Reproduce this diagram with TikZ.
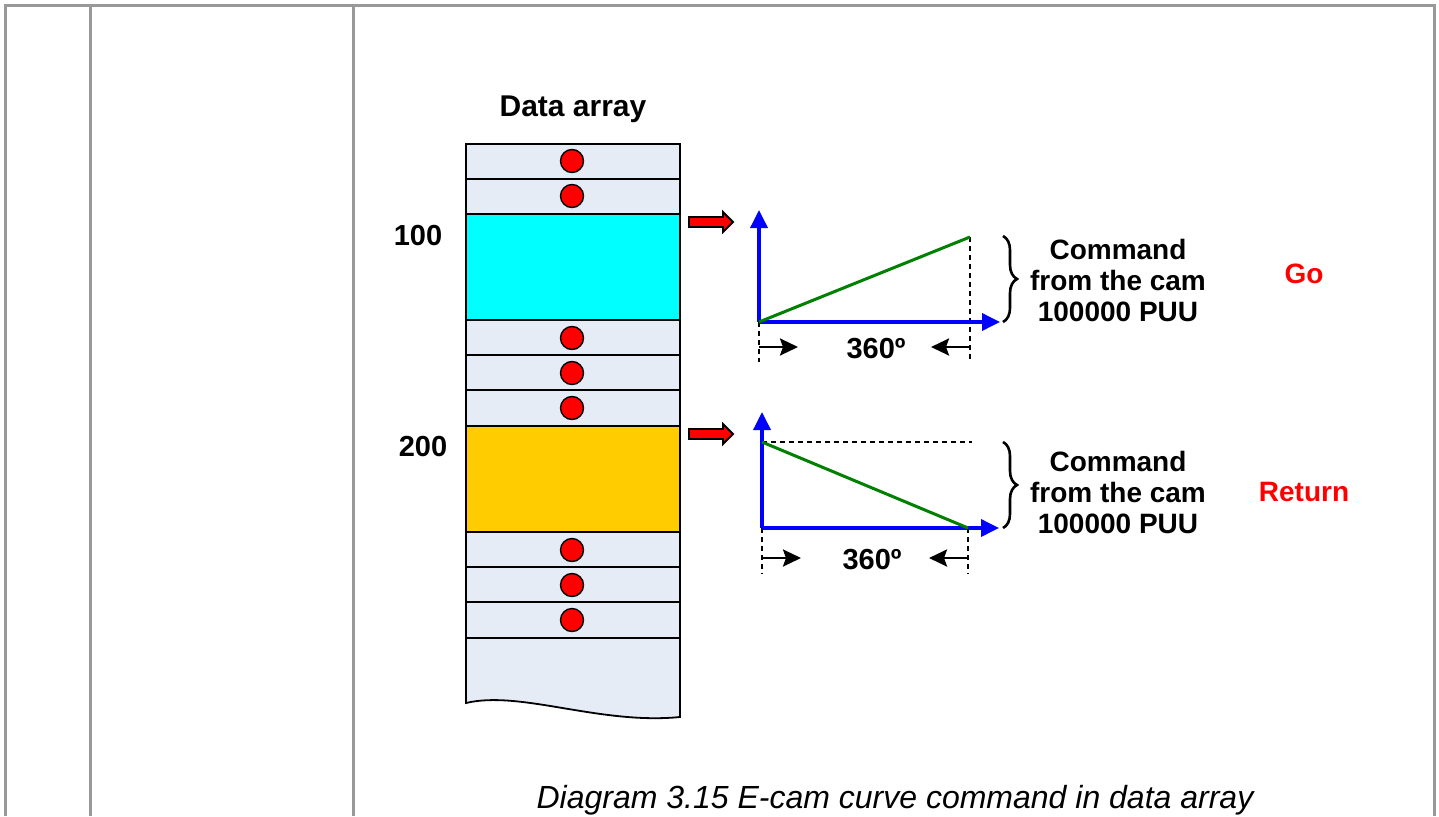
\documentclass[tikz,border=0pt]{standalone}
\usepackage{fontspec}
\setmainfont{Liberation Sans}
\usetikzlibrary{arrows.meta,decorations.pathreplacing}
\definecolor{gridgray}{HTML}{999999}
\definecolor{cellbg}{HTML}{E6ECF6}
\definecolor{cyanfill}{HTML}{00FFFF}
\definecolor{orangefill}{HTML}{FFCC00}
\definecolor{axisblue}{HTML}{0000FF}
\definecolor{curvegreen}{HTML}{008000}
\definecolor{labelred}{HTML}{FF0000}
\begin{document}
\begin{tikzpicture}[x=1pt,y=-1pt,
  gridline/.style={draw=gridgray, line width=3pt},
  cell/.style={draw=black, line width=1.8pt, fill=cellbg},
  dot/.style={circle, draw=black, line width=1.4pt, fill=red, minimum size=23pt, inner sep=0pt},
  axis/.style={draw=axisblue, line width=3.6pt, -{Triangle[length=18pt,width=17pt]}},
  curve/.style={draw=curvegreen, line width=3pt},
  guide/.style={draw=black, line width=2.6pt, dash pattern=on 5pt off 4pt},
  dim/.style={draw=black, line width=2.6pt, -{Stealth[length=18pt,width=17pt,inset=3pt]}},
  lbl/.style={font=\bfseries\fontsize{29}{31}\selectfont, text=black, align=center, inner sep=0pt},
  cmd/.style={font=\bfseries\fontsize{28}{31}\selectfont, text=black, align=center, inner sep=0pt},
  redlbl/.style={cmd, text=labelred},
  caption/.style={font=\itshape\fontsize{32}{36}\selectfont, inner sep=0pt},
  blockarrow/.style={fill=red, draw=black, line width=1.8pt},
  brc/.style={draw=black, line width=2.6pt, decorate, decoration={brace, amplitude=14pt}}
]
\useasboundingbox (0,0) rectangle (1439,816);
% table lines
\draw[gridline] (5,816) -- (5,6) -- (1434,6) -- (1434,816);
\draw[gridline] (90,6) -- (90,816);
\draw[gridline] (353,6) -- (353,816);

% data array
\node[lbl, font=\bfseries\fontsize{30}{32}\selectfont] (title) at (573,109) {Data array};
\draw[cell] (466,144) -- (680,144) -- (680,717) .. controls (600,725) and (520,690) .. (466,703) -- cycle;
\draw[cell] (466,144) rectangle (680,179);
\draw[cell] (466,179) rectangle (680,214);
\draw[cell, fill=cyanfill] (466,214) rectangle (680,320);
\draw[cell] (466,320) rectangle (680,355);
\draw[cell] (466,355) rectangle (680,390);
\draw[cell] (466,390) rectangle (680,426);
\draw[cell, fill=orangefill] (466,426) rectangle (680,532);
\draw[cell] (466,532) rectangle (680,567);
\draw[cell] (466,567) rectangle (680,602);
\draw[cell] (466,602) rectangle (680,638);
\foreach \y/\n in {161/d1,196/d2,338/d3,373/d4,408/d5,550/d6,585/d7,620/d8}
  \node[dot] (\n) at (572,\y) {};

\node[lbl] (l100) at (418,236) {100};
\node[lbl] (l200) at (423,447) {200};

% red block arrows
\draw[blockarrow] (689,217) -- (723,217) -- (723,212) -- (733,222) -- (723,232) -- (723,227) -- (689,227) -- cycle;
\draw[blockarrow] (689,429) -- (723,429) -- (723,424) -- (733,434) -- (723,444) -- (723,439) -- (689,439) -- cycle;

% graph 1 (Go)
\coordinate (o1) at (759,322);
\coordinate (yt1) at (759,210);
\coordinate (xt1) at (1000,322);
\coordinate (e1) at (970,237);
\coordinate (eb1) at (970,362);
\coordinate (ob1) at (759,362);
\draw[guide] (e1) -- (eb1);
\draw[guide] (o1) -- (ob1);
\draw[axis] (o1) -- (yt1);
\draw[axis] (o1) -- (xt1);
\draw[curve] (o1) -- (e1);
\coordinate (a1s) at (759,347);
\coordinate (a1e) at (798,347);
\coordinate (b1s) at (970,347);
\coordinate (b1e) at (931,347);
\draw[dim] (a1s) -- (a1e);
\draw[dim] (b1s) -- (b1e);
\node[lbl] (deg1) at (876,349) {360º};
\coordinate (br1t) at (1003,236);
\coordinate (br1b) at (1003,322);
\draw[brc] (br1t) -- (br1b);
\node[cmd] (cmd1) at (1118,280) {Command\\from the cam\\100000 PUU};
\node[redlbl] (go) at (1304,274) {Go};

% graph 2 (Return)
\coordinate (o2) at (762,528);
\coordinate (yt2) at (762,412);
\coordinate (xt2) at (999,528);
\coordinate (s2) at (762,442);
\coordinate (h2) at (972,442);
\coordinate (e2) at (968,528);
\coordinate (eb2) at (968,574);
\coordinate (ob2) at (762,574);
\draw[guide] (s2) -- (h2);
\draw[guide] (e2) -- (eb2);
\draw[guide] (o2) -- (ob2);
\draw[axis] (o2) -- (yt2);
\draw[axis] (o2) -- (xt2);
\draw[curve] (s2) -- (e2);
\coordinate (a2s) at (762,558);
\coordinate (a2e) at (801,558);
\coordinate (b2s) at (968,558);
\coordinate (b2e) at (929,558);
\draw[dim] (a2s) -- (a2e);
\draw[dim] (b2s) -- (b2e);
\node[lbl] (deg2) at (872,560) {360º};
\coordinate (br2t) at (1003,442);
\coordinate (br2b) at (1003,528);
\draw[brc] (br2t) -- (br2b);
\node[cmd] (cmd2) at (1118,492) {Command\\from the cam\\100000 PUU};
\node[redlbl] (ret) at (1304,492) {Return};

\node[caption] (cap) at (895,800) {Diagram 3.15 E-cam curve command in data array};
\end{tikzpicture}
\end{document}
